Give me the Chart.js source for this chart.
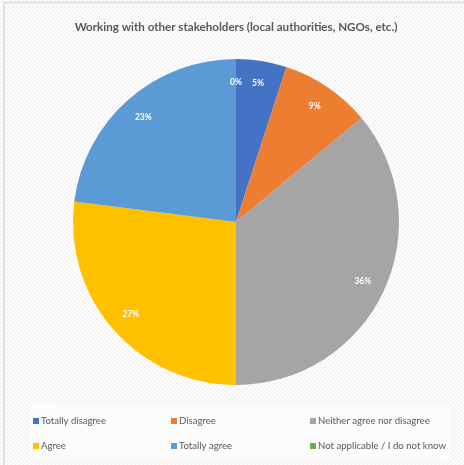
<!DOCTYPE html>
<html>
<head>
<meta charset="utf-8">
<script src="https://cdn.jsdelivr.net/npm/chart.js@4.4.1/dist/chart.umd.min.js"></script>
<style>
  html, body { margin: 0; padding: 0; background: #fff; }
  #wrap { width: 464px; height: 465px; }
</style>
</head>
<body>
<div id="wrap"><canvas id="pieChart" width="464" height="465"></canvas></div>
<script>

// =========================
// DATA
// =========================

const titleText = 'Working with other stakeholders (local authorities, NGOs, etc.)';

const categories = [
    'Totally disagree',
    'Disagree',
    'Neither agree nor disagree',
    'Agree',
    'Totally agree',
    'Not applicable / I do not know'
];

const shares = [5, 9, 36, 27, 23, 0];

const sliceColors = [
    '#4472C4',
    '#ED7D31',
    '#A5A5A5',
    '#FFC000',
    '#5B9BD5',
    '#70AD47'
];

// =========================
// BACKGROUND + TITLE
// =========================

const backdrop = {
    id: 'backdrop',
    beforeDraw(chart){
        const ctx = chart.ctx;
        const w = chart.width, h = chart.height;
        ctx.save();
        ctx.fillStyle = '#ffffff';
        ctx.fillRect(0, 0, w, h);

        // diagonal stripes
        ctx.strokeStyle = '#efefef';
        ctx.lineWidth = 1.2;
        ctx.beginPath();
        for(let i = -h; i < w + h; i += 4){
            ctx.moveTo(i, h);
            ctx.lineTo(i + h, 0);
        }
        ctx.stroke();

        // legend box
        ctx.fillStyle = 'rgba(255,255,255,0.55)';
        ctx.fillRect(30, 405, 420, 55);

        // frame
        ctx.strokeStyle = '#d9d9d9';
        ctx.lineWidth = 1.5;
        ctx.strokeRect(4, 2.5, w + 10, h + 10);

        // title
        ctx.fillStyle = '#595959';
        ctx.font = 'bold 11.6px Lato, sans-serif';
        ctx.textAlign = 'center';
        ctx.textBaseline = 'middle';
        ctx.fillText(titleText, 236, 27);
        ctx.restore();
    }
};

// =========================
// SLICE LABELS + LEGEND
// =========================

const overlay = {
    id: 'overlay',
    afterDraw(chart){
        const ctx = chart.ctx;
        const meta = chart.getDatasetMeta(0);
        ctx.save();

        ctx.fillStyle = '#ffffff';
        ctx.font = 'bold 8.5px Lato, sans-serif';
        ctx.textAlign = 'center';
        ctx.textBaseline = 'middle';
        meta.data.forEach((arc, i) => {
            const p = arc.getProps(['x','y','startAngle','endAngle','outerRadius'], true);
            const mid = (p.startAngle + p.endAngle) / 2;
            const r = p.outerRadius * 0.86;
            ctx.fillText(shares[i] + '%', p.x + Math.cos(mid) * r, p.y + Math.sin(mid) * r);
        });

        // legend in 3 columns
        const colX = [33, 171, 310];
        const rowY = [421, 446];
        ctx.font = '9.6px Lato, sans-serif';
        ctx.textAlign = 'left';
        categories.forEach((name, i) => {
            const x = colX[i % 3];
            const y = rowY[Math.floor(i / 3)];
            ctx.fillStyle = sliceColors[i];
            ctx.fillRect(x, y - 3, 6, 6);
            ctx.fillStyle = '#595959';
            ctx.fillText(name, x + 8, y);
        });

        ctx.restore();
    }
};

// =========================
// PIE CHART
// =========================

new Chart(document.getElementById('pieChart'), {
    type: 'pie',
    data: {
        labels: categories,
        datasets: [{
            data: shares,
            backgroundColor: sliceColors,
            borderWidth: 0
        }]
    },
    options: {
        responsive: false,
        animation: false,
        layout: {
            padding: { top: 59, bottom: 80, left: 8, right: 0 }
        },
        plugins: {
            legend: { display: false },
            title: { display: false },
            tooltip: { enabled: false }
        }
    },
    plugins: [backdrop, overlay]
});

</script>
</body>
</html>
